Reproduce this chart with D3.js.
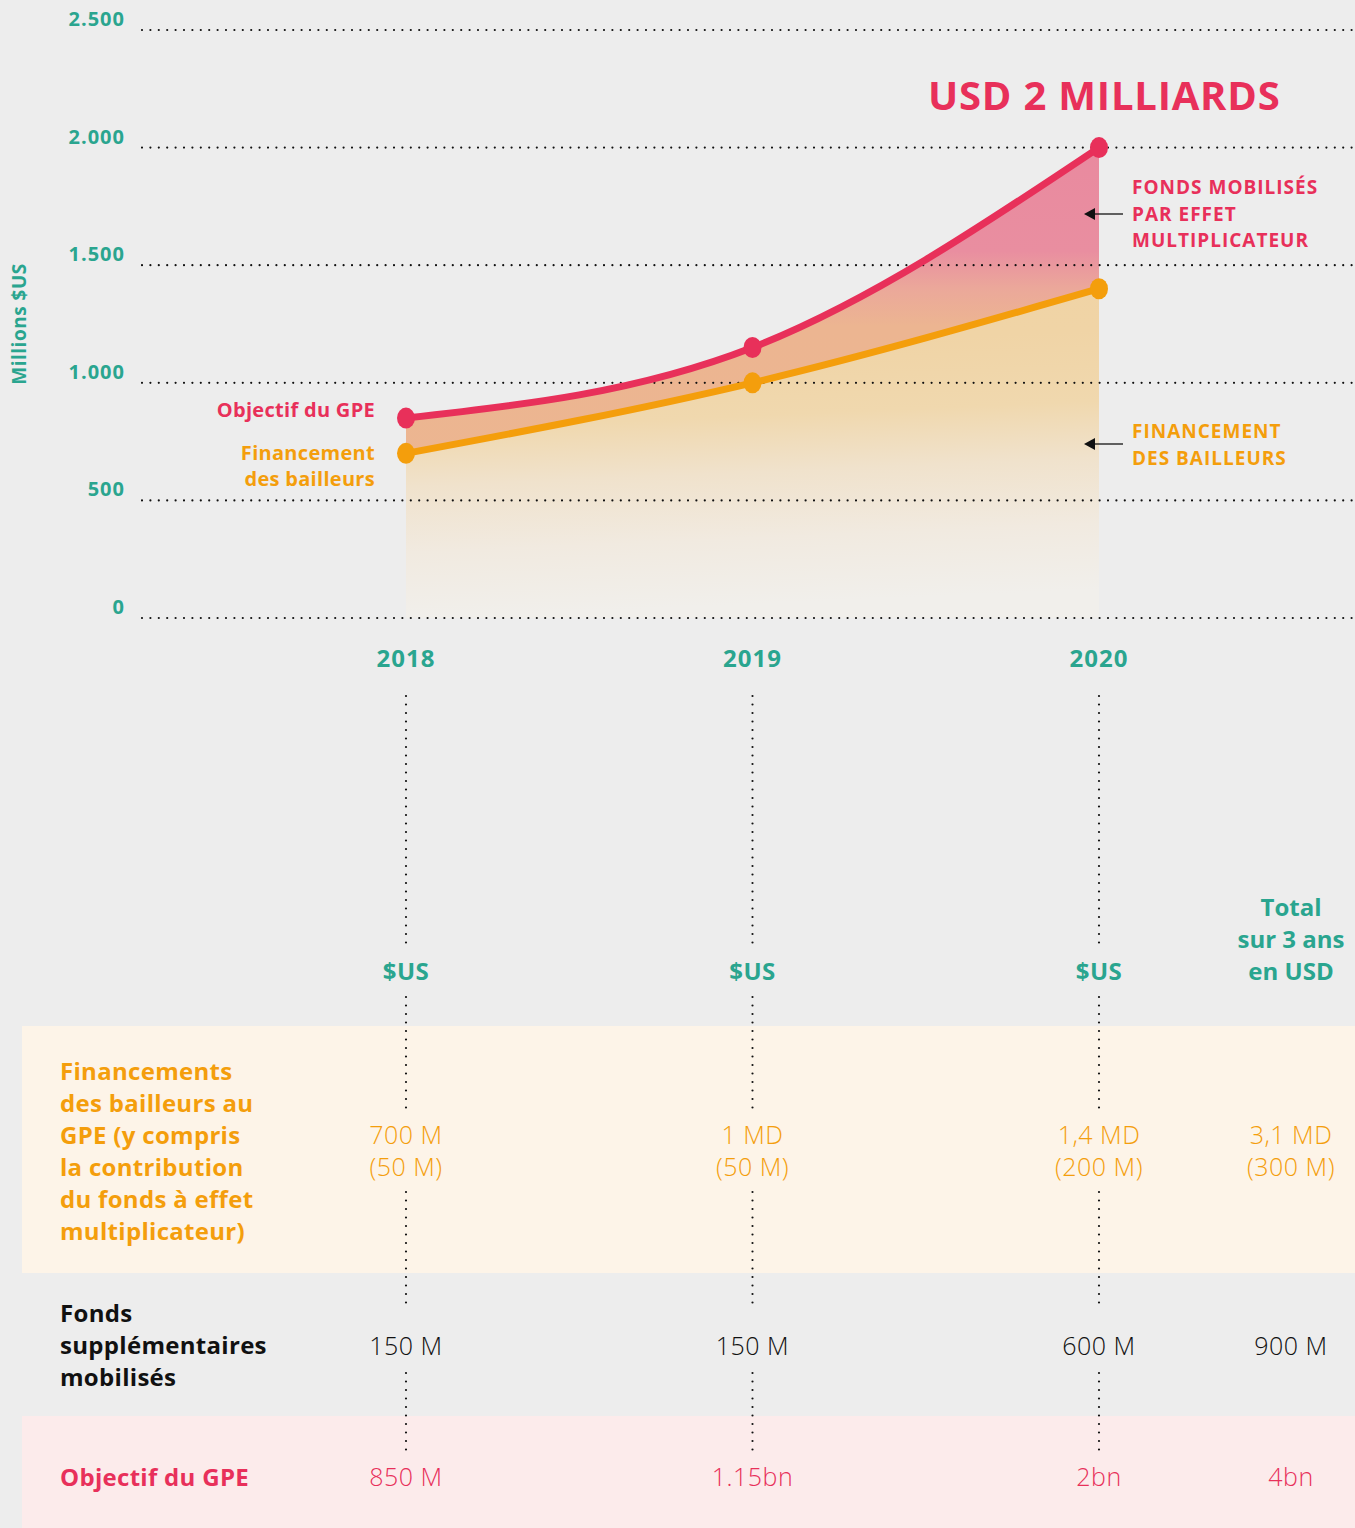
<!DOCTYPE html>
<html>
<head>
<meta charset="utf-8">
<script src="https://cdn.jsdelivr.net/npm/d3@7"></script>
<style>
    html, body { margin: 0; padding: 0; background: #ededed; }
    svg text { font-family: "Open Sans", Lato, sans-serif; }
</style>
</head>
<body>
<div id="chart"></div>
<script>
var years = ["2018", "2019", "2020"];
var donorFunding = [700, 1000, 1400];
var gpeTarget = [850, 1150, 2000];
var yTicks = [0, 500, 1000, 1500, 2000, 2500];
var tickLabels = ["0", "500", "1.000", "1.500", "2.000", "2.500"];

var donorValues = ["700 M", "1 MD", "1,4 MD", "3,1 MD"];
var donorLeverage = ["(50 M)", "(50 M)", "(200 M)", "(300 M)"];
var extraFunds = ["150 M", "150 M", "600 M", "900 M"];
var targetValues = ["850 M", "1.15bn", "2bn", "4bn"];

var teal = "#2aa58f";
var pink = "#e8305a";
var orange = "#f49e0c";

var W = 1355, H = 1528;
var svg = d3.select("#chart").append("svg").attr("width", W).attr("height", H);

svg.append("rect").attr("width", W).attr("height", H).attr("fill", "#ededed");

var x = d3.scalePoint().domain(years).range([406, 1099]);
var y = d3.scaleLinear().domain([0, 2500]).range([618, 30]);
var totalX = 1291;

var defs = svg.append("defs");
function addGrad(id, tilt, stops) {
    var g = defs.append("linearGradient").attr("id", id)
        .attr("gradientUnits", "userSpaceOnUse")
        .attr("x1", x(years[0])).attr("y1", y(2000))
        .attr("x2", x(years[0]) + tilt).attr("y2", y(0));
    stops.forEach(function (s) {
        g.append("stop").attr("offset", s[0]).attr("stop-color", s[1]);
    });
}
// band between the two lines: pink on top, peach lower
addGrad("topGrad", 0, [["0%", "#e98a9f"], ["22%", "#e98ea0"], ["30%", "#eba89a"], ["38%", "#ecb591"], ["100%", "#ecb690"]]);
// area under donor funding: beige fading out at 0
addGrad("bottomGrad", 20, [["0%", "#f0d3a2"], ["45%", "#f0d4a6"], ["60%", "#f0d8ae"], ["72%", "#f0e2cc"], ["86%", "#f1eae0"], ["100%", "#f1efeb"]]);

var topArea = d3.area()
    .x((d, i) => x(years[i]))
    .y0((d, i) => y(donorFunding[i]))
    .y1(d => y(d))
    .curve(d3.curveMonotoneX);
var bottomArea = d3.area()
    .x((d, i) => x(years[i]))
    .y0(y(0))
    .y1(d => y(d))
    .curve(d3.curveMonotoneX);
svg.append("path").datum(gpeTarget).attr("d", topArea).attr("fill", "url(#topGrad)");
svg.append("path").datum(donorFunding).attr("d", bottomArea).attr("fill", "url(#bottomGrad)");

// gridlines (on top of the area)
svg.append("g").selectAll("line").data(yTicks).join("line")
    .attr("x1", 142).attr("x2", W)
    .attr("y1", d => y(d)).attr("y2", d => y(d))
    .attr("stroke", "#111").attr("stroke-width", 2.2)
    .attr("stroke-linecap", "round").attr("stroke-dasharray", "0,8.4");

// tick labels
svg.append("g").selectAll("text").data(yTicks).join("text")
    .attr("x", 125).attr("y", d => y(d) - 4)
    .attr("text-anchor", "end")
    .attr("fill", teal).attr("font-weight", 700).attr("font-size", 20).attr("letter-spacing", 1)
    .text((d, i) => tickLabels[i]);

svg.append("text")
    .attr("transform", "translate(26,324) rotate(-90)")
    .attr("text-anchor", "middle")
    .attr("fill", teal).attr("font-weight", 700).attr("font-size", 19).attr("letter-spacing", 0.5)
    .text("Millions $US");

var line = d3.line()
    .x((d, i) => x(years[i]))
    .y(d => y(d))
    .curve(d3.curveMonotoneX);

var series = [
    { values: donorFunding, color: orange },
    { values: gpeTarget, color: pink }
];
series.forEach(function (s) {
    svg.append("path").datum(s.values).attr("d", line)
        .attr("fill", "none").attr("stroke", s.color).attr("stroke-width", 7);
    svg.append("g").selectAll("ellipse").data(s.values).join("ellipse")
        .attr("cx", (d, i) => x(years[i])).attr("cy", d => y(d))
        .attr("rx", 9).attr("ry", 10.5)
        .attr("fill", s.color);
});

// series labels on the left
function leftLabel(t, color, yPos) {
    svg.append("text").attr("x", 375).attr("y", yPos)
        .attr("text-anchor", "end").attr("fill", color)
        .attr("font-weight", 700).attr("font-size", 20).attr("letter-spacing", 0.3)
        .text(t);
}
leftLabel("Objectif du GPE", pink, y(gpeTarget[0]) - 1);
leftLabel("Financement", orange, y(donorFunding[0]) + 7);
leftLabel("des bailleurs", orange, y(donorFunding[0]) + 33);

// headline
svg.append("text").attr("x", 928).attr("y", 110)
    .attr("fill", pink).attr("font-weight", 700).attr("font-size", 40).attr("letter-spacing", 0.8)
    .text("USD 2 MILLIARDS");

// right annotations
function annotate(lines, color, yTop, arrowY) {
    var g = svg.append("g");
    lines.forEach(function (t, i) {
        g.append("text").attr("x", 1132).attr("y", yTop + i * 26.5)
            .attr("fill", color).attr("font-weight", 700).attr("font-size", 19).attr("letter-spacing", 1)
            .text(t);
    });
    g.append("line").attr("x1", 1123).attr("x2", 1092).attr("y1", arrowY).attr("y2", arrowY)
        .attr("stroke", "#111").attr("stroke-width", 1.3);
    g.append("path")
        .attr("d", "M1084," + arrowY + " L1095," + (arrowY - 6) + " L1095," + (arrowY + 6) + " Z")
        .attr("fill", "#111");
}
annotate(["FONDS MOBILISÉS", "PAR EFFET", "MULTIPLICATEUR"], pink, 194, 214);
annotate(["FINANCEMENT", "DES BAILLEURS"], orange, 438, 444);

// year labels
svg.append("g").selectAll("text").data(years).join("text")
    .attr("x", d => x(d)).attr("y", 667)
    .attr("text-anchor", "middle")
    .attr("fill", teal).attr("font-weight", 700).attr("font-size", 24).attr("letter-spacing", 1)
    .text(d => d);

// table row backgrounds
svg.append("rect").attr("x", 22).attr("y", 1026).attr("width", W - 22).attr("height", 247).attr("fill", "#fdf4e8");
svg.append("rect").attr("x", 22).attr("y", 1416).attr("width", W - 22).attr("height", 112).attr("fill", "#fcebeb");

// vertical dotted connectors
var segments = [[696, 948], [997, 1112], [1192, 1308], [1373, 1455]];
years.forEach(function (yr) {
    segments.forEach(function (s) {
        svg.append("line")
            .attr("x1", x(yr)).attr("x2", x(yr))
            .attr("y1", s[0]).attr("y2", s[1])
            .attr("stroke", "#111").attr("stroke-width", 2.2)
            .attr("stroke-linecap", "round").attr("stroke-dasharray", "0,8.5");
    });
});

// column headers
svg.append("g").selectAll("text").data(years).join("text")
    .attr("x", d => x(d)).attr("y", 980)
    .attr("text-anchor", "middle")
    .attr("fill", teal).attr("font-weight", 700).attr("font-size", 24).attr("letter-spacing", 0.5)
    .text("$US");
["Total", "sur 3 ans", "en USD"].forEach(function (t, i) {
    svg.append("text").attr("x", totalX).attr("y", 916 + i * 32)
        .attr("text-anchor", "middle")
        .attr("fill", teal).attr("font-weight", 700).attr("font-size", 24)
        .text(t);
});

var colX = years.map(d => x(d)).concat([totalX]);

// row labels
function rowLabel(lines, color, yTop) {
    lines.forEach(function (t, i) {
        svg.append("text").attr("x", 60).attr("y", yTop + i * 32)
            .attr("fill", color).attr("font-weight", 700).attr("font-size", 24).attr("letter-spacing", 0.3)
            .text(t);
    });
}
rowLabel(["Financements", "des bailleurs au", "GPE (y compris", "la contribution", "du fonds à effet", "multiplicateur)"], orange, 1080);
rowLabel(["Fonds", "supplémentaires", "mobilisés"], "#111", 1322);
rowLabel(["Objectif du GPE"], pink, 1486);

function rowValues(vals, color, yPos) {
    svg.append("g").selectAll("text").data(vals).join("text")
        .attr("x", (d, i) => colX[i]).attr("y", yPos)
        .attr("text-anchor", "middle")
        .attr("fill", color).attr("font-size", 25).attr("font-weight", 300).attr("letter-spacing", 0.5)
        .text(d => d);
}
rowValues(donorValues, orange, 1144);
rowValues(donorLeverage, orange, 1176);
rowValues(extraFunds, "#111", 1355);
rowValues(targetValues, pink, 1486);
</script>
</body>
</html>
